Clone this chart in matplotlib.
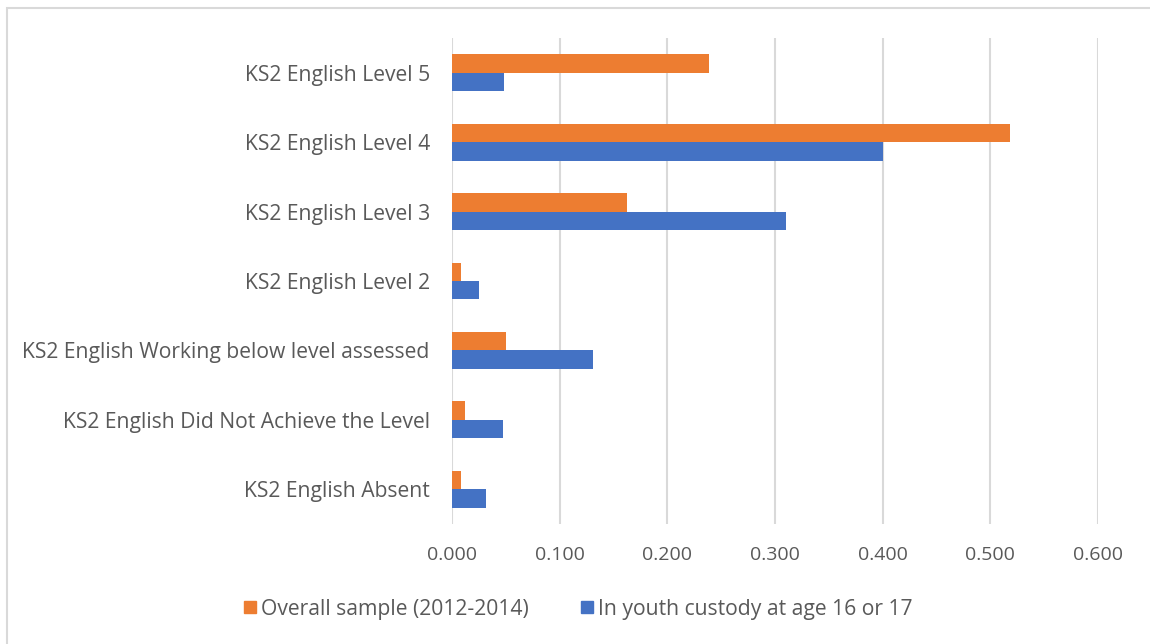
import numpy as np
import matplotlib.pyplot as plt
from matplotlib.patches import Patch, Rectangle

plt.rcParams['font.family'] = ['Open Sans', 'DejaVu Sans']

categories = ['KS2 English Level 5', 'KS2 English Level 4', 'KS2 English Level 3',
              'KS2 English Level 2', 'KS2 English Working below level assessed',
              'KS2 English Did Not Achieve the Level', 'KS2 English Absent']
overall = [0.239, 0.518, 0.163, 0.008, 0.050, 0.012, 0.008]
custody = [0.048, 0.400, 0.310, 0.025, 0.131, 0.047, 0.032]
xticks = [0.0, 0.1, 0.2, 0.3, 0.4, 0.5, 0.6]

orange = '#ED7D31'
blue = '#4472C4'
textc = '#595959'
gridc = '#D9D9D9'

fig = plt.figure(figsize=(11.5, 6.44), dpi=100)
ax = fig.add_axes([452/1150, 1-524/644, (1098-452)/1150, (524-38)/644])

y = np.arange(len(categories))
h = 0.265
ax.barh(y - h/2, overall, height=h, color=orange, label='Overall sample (2012-2014)', zorder=3)
ax.barh(y + h/2, custody, height=h, color=blue, label='In youth custody at age 16 or 17', zorder=3)

ax.set_ylim(len(categories) - 0.5, -0.5)
ax.set_xlim(0, 0.6)
ax.set_yticks(y)
ax.set_yticklabels(categories, fontsize=15.2)
ax.set_xticks(xticks)
ax.set_xticklabels(['%.3f' % v for v in xticks], fontsize=14)
ax.tick_params(axis='both', length=0, colors=textc)
ax.tick_params(axis='y', pad=16)
ax.tick_params(axis='x', pad=16)
ax.grid(axis='x', color=gridc, linewidth=1.5, zorder=0)
for s in ax.spines.values():
    s.set_visible(False)

handles = [Patch(color=orange, label='Overall sample (2012-2014)'),
           Patch(color=blue, label='In youth custody at age 16 or 17')]
fig.legend(handles=handles, loc='center', bbox_to_anchor=(0.503, 1-609/644), ncol=2,
           frameon=False, fontsize=15.2, labelcolor=textc, handlelength=0.55,
           handleheight=0.55, handletextpad=0.25, columnspacing=2.5)

# light frame round the chart area
fig.patches.append(Rectangle((7/1150, -0.1), 1.2, 1-8/644+0.1, transform=fig.transFigure,
                             fill=False, edgecolor=gridc, linewidth=1.5))

fig.savefig('out.png', dpi=100)
